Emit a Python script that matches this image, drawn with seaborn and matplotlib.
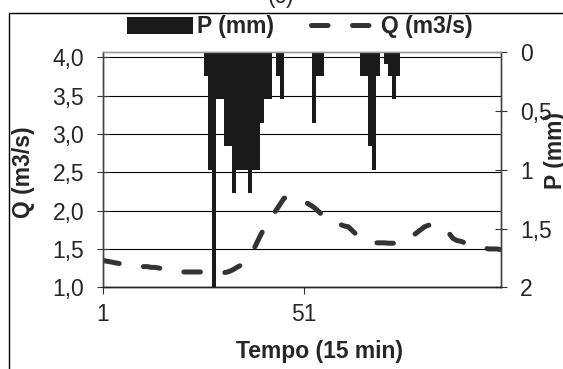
import numpy as np
import pandas as pd
import matplotlib
matplotlib.use("Agg")
import matplotlib.pyplot as plt
import seaborn as sns
from matplotlib.patches import Patch, Rectangle
from matplotlib.lines import Line2D

# ---------------- data ----------------
time = list(range(1, 101))
q_m3s = [1.35, 1.34, 1.33, 1.32, 1.31, 1.30, 1.29, 1.28, 1.28, 1.27,
         1.27, 1.27, 1.26, 1.26, 1.25, 1.24, 1.23, 1.22, 1.21, 1.21,
         1.20, 1.20, 1.20, 1.20, 1.20, 1.20, 1.20, 1.20, 1.19, 1.19,
         1.19, 1.20, 1.22, 1.25, 1.28, 1.32, 1.37, 1.45, 1.55, 1.66,
         1.76, 1.85, 1.93, 2.00, 2.08, 2.16, 2.18, 2.18, 2.17, 2.15,
         2.12, 2.09, 2.06, 2.02, 1.97, 1.92, 1.87, 1.85, 1.83, 1.82,
         1.80, 1.79, 1.74, 1.69, 1.65, 1.62, 1.60, 1.59, 1.58, 1.58,
         1.58, 1.575, 1.575, 1.575, 1.58, 1.59, 1.62, 1.67, 1.71, 1.75,
         1.79, 1.81, 1.81, 1.81, 1.80, 1.77, 1.71, 1.64, 1.61, 1.60,
         1.58, 1.56, 1.54, 1.53, 1.52, 1.51, 1.50, 1.50, 1.50, 1.49]

rain_steps = [26, 27, 28, 29, 30, 31, 32, 33, 34, 35, 36, 37, 38, 39, 40, 41, 42,
              44, 45, 53, 54, 55, 65, 66, 67, 68, 69, 71, 72, 73, 74]
rain_mm = [0.2, 1.0, 2.0, 0.4, 0.4, 0.8, 0.8, 1.2, 1.0, 1.0, 1.0, 1.2, 1.0, 1.0, 0.6, 0.4, 0.4,
           0.2, 0.4, 0.6, 0.2, 0.2, 0.2, 0.2, 0.8, 1.0, 0.2, 0.1, 0.2, 0.4, 0.2]

q_ticks = [1.0, 1.5, 2.0, 2.5, 3.0, 3.5, 4.0]
q_ticklabels = ["1,0", "1,5", "2,0", "2,5", "3,0", "3,5", "4,0"]
p_ticks = [0, 0.5, 1, 1.5, 2]
p_ticklabels = ["0", "0,5", "1", "1,5", "2"]
x_ticks = [1, 51]
x_ticklabels = ["1", "51"]

# ---------------- style ----------------
sns.set_theme(style="white")
plt.rcParams['font.family'] = ['Liberation Sans', 'DejaVu Sans']

W, H = 563, 369
fig = plt.figure(figsize=(W / 100, H / 100), dpi=100)
L, R, T, B = 103, 501, 52.3, 287.3
ax = fig.add_axes([L / W, 1 - B / H, (R - L) / W, (B - T) / H])
ax2 = ax.twinx()

FS = 16.5
BAR_C = "#1a1a1a"
LINE_C = "#333333"
LW = 3.6
DASH = (0, (3.3, 4.9))

# precipitation bars (hanging from the top, secondary axis)
p_full = dict(zip(rain_steps, rain_mm))
bar_df = pd.DataFrame({"t": np.array(time, dtype=float) + 0.5,
                       "p": [p_full.get(t, 0.0) for t in time]})
sns.barplot(data=bar_df, x="t", y="p", native_scale=True, width=1.0,
            color=BAR_C, saturation=1, errorbar=None, linewidth=0, ax=ax2)

# discharge line
line_df = pd.DataFrame({"t": time, "q": q_m3s})
sns.lineplot(data=line_df, x="t", y="q", ax=ax, color=LINE_C, lw=LW,
             linestyle=DASH, dash_capstyle="round")

# axes limits / ticks
ax.set_xlim(1, 100)
ax2.set_xlim(1, 100)
ax.set_ylim(1.0, 4.065)
ax2.set_ylim(2.0, 0.0)

ax.set_xticks(x_ticks)
ax.set_xticklabels(x_ticklabels)
ax.set_yticks(q_ticks)
ax.set_yticklabels(q_ticklabels)
ax2.set_yticks(p_ticks)
ax2.set_yticklabels(p_ticklabels)

ax.tick_params(axis='y', direction='inout', length=9, width=0.8, color='#333333',
               labelsize=FS, pad=9, left=True)
ax.tick_params(axis='x', direction='out', length=5, width=0.8, color='#333333',
               labelsize=FS, pad=6, bottom=True)
ax2.tick_params(axis='y', direction='inout', length=9, width=0.8, color='#333333',
                labelsize=FS, pad=9, right=True)

ax.yaxis.grid(True, color='black', lw=0.8)
ax.xaxis.grid(False)
ax.set_axisbelow(True)

for a in (ax, ax2):
    for s in a.spines.values():
        s.set_visible(True)
        s.set_linewidth(1.0)
        s.set_color('#444444')
    a.spines['top'].set_color('#999999')
    a.spines['bottom'].set_color('#222222')

ax.set_xlabel("Tempo (15 min)", fontsize=FS, fontweight='bold', va='center')
ax.xaxis.set_label_coords(0.545, -0.275)
ax.set_ylabel("Q (m3/s)", fontsize=FS, fontweight='bold', va='center', ha='center', rotation=90)
ax.yaxis.set_label_coords(-0.201, 0.49)
ax2.set_ylabel("P (mm)", fontsize=FS, fontweight='bold', va='center', ha='center', rotation=90)
ax2.yaxis.set_label_coords(1.138, 0.584)

# legend
handles = [Patch(facecolor=BAR_C, edgecolor='none', label='P (mm)'),
           Line2D([], [], color=LINE_C, lw=LW, linestyle=DASH,
                  dash_capstyle='round', label='Q (m3/s)')]
fig.legend(handles=handles, loc='center', bbox_to_anchor=(300 / W, 1 - 27 / H),
           ncol=2, frameon=False, prop={'weight': 'bold', 'size': FS},
           handlelength=2.85, handleheight=0.7, handletextpad=0.2,
           columnspacing=1.6, borderpad=0)

# partially visible panel title and outer chart border
fig.text(281 / W, 1 - 3 / H, "(c)", ha='center', va='baseline', fontsize=FS)
fig.add_artist(Rectangle((9 / W, -0.05), 1.2, (1 - 12.6 / H) + 0.05,
                         transform=fig.transFigure, fill=False,
                         edgecolor='black', lw=1.0, clip_on=False))

fig.savefig("out.png", dpi=100)
